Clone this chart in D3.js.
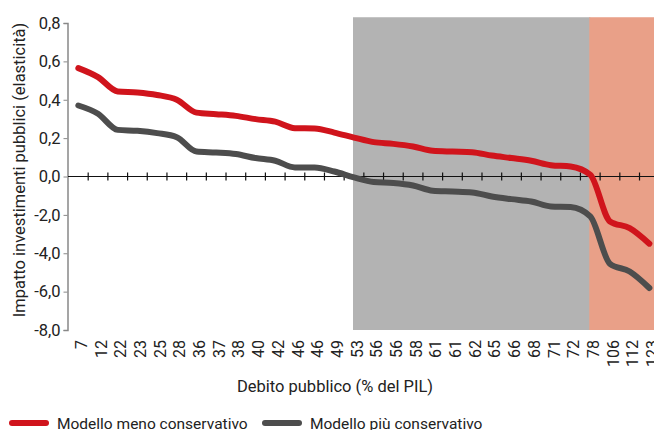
<!DOCTYPE html>
<html>
<head>
<meta charset="utf-8">
<script src="https://cdn.jsdelivr.net/npm/d3@7"></script>
<style>
  body { margin: 0; background: #fff; }
  svg text { font-family: Roboto, "Noto Sans", sans-serif; fill: #222; }
</style>
</head>
<body>
<svg id="chart" width="654" height="430"></svg>
<script>
// categories: public debt (% of GDP), several repeat so we key on index
const debtLabels = ["7","12","22","23","25","28","36","37","38","40","42","46","46","49","53",
  "56","56","58","61","61","62","65","66","68","71","72","78","106","112","123"];
const menoConservativo = [0.565,0.518,0.443,0.438,0.425,0.40,0.333,0.325,0.316,0.299,0.286,0.252,0.25,0.229,0.203,
  0.179,0.17,0.156,0.134,0.13,0.127,0.109,0.096,0.082,0.059,0.052,0.009,-0.234,-0.269,-0.35];
const piuConservativo = [0.37,0.327,0.243,0.238,0.226,0.205,0.13,0.125,0.117,0.096,0.082,0.047,0.047,0.026,-0.005,
  -0.029,-0.034,-0.047,-0.074,-0.078,-0.083,-0.104,-0.118,-0.13,-0.156,-0.159,-0.208,-0.455,-0.495,-0.581];
const yTicks = [0.8,0.6,0.4,0.2,0,-0.2,-0.4,-0.6,-0.8];
const yTickLabels = ["0,8","0,6","0,4","0,2","0,0","-2,0","-4,0","-6,0","-8,0"];
// shaded zones, given by index of the category where each starts
const zones = [{from:14, to:26, color:"#b3b3b3"},{from:26, to:29, color:"#e9a088"}];

const svg = d3.select("svg#chart");

const idx = debtLabels.map((d,i) => i);
const x = d3.scaleBand().domain(idx).range([68.5, 659.2]);
const y = d3.scaleLinear().domain([-0.8, 0.8]).range([330, 23]);
const cx = i => x(i) + x.bandwidth()/2;

//background zones
zones.forEach(function(z){
  let right = z.to === idx.length-1 ? x.range()[1] : cx(z.to);
  svg.append("rect").attr("x",cx(z.from)-1).attr("y",y(0.83))
    .attr("width",right-cx(z.from)+1).attr("height",y(-0.8)-y(0.83))
    .attr("fill",z.color);
});

//y axis
const yAxis = svg.append("g").attr("transform","translate(" + 67.5 + ",0)")
  .call(d3.axisLeft(y).tickValues(yTicks).tickSize(4).tickPadding(3)
    .tickFormat((d,i) => yTickLabels[i]));
yAxis.select(".domain").attr("stroke","#888").attr("stroke-width",1.5);
yAxis.selectAll(".tick line").attr("stroke","#888");
yAxis.selectAll("text").style("font-size","16.5px").attr("fill","#222");

//x axis on the zero line, ticks between categories
const xAxis = svg.append("g").attr("transform","translate(0," + y(0) + ")");
xAxis.append("line").attr("x1",68).attr("x2",654).attr("stroke","#111").attr("stroke-width",1.2);
xAxis.selectAll(".xt").data(idx.slice(1)).enter().append("line")
  .attr("x1",d => x(d)).attr("x2",d => x(d)).attr("y1",-4).attr("y2",4)
  .attr("stroke","#111").attr("stroke-width",1.2);

//rotated category labels under the plot
svg.append("g").selectAll("text").data(idx).enter().append("text")
  .attr("transform",d => "translate(" + (cx(d)+3) + "," + 340 + ") rotate(-90)")
  .attr("text-anchor","end").attr("dy","0.35em")
  .style("font-size","16px")
  .text(d => debtLabels[d]);

//lines
const line = d3.line().x((d,i) => cx(i)).y(d => y(d)).curve(d3.curveMonotoneX);
svg.append("path").datum(piuConservativo).attr("d",line)
  .attr("fill","none").attr("stroke","#4d4d4d").attr("stroke-width",6).attr("stroke-linecap","round");
svg.append("path").datum(menoConservativo).attr("d",line)
  .attr("fill","none").attr("stroke","#d0141c").attr("stroke-width",6).attr("stroke-linecap","round");

//axis titles
svg.append("text").attr("x",335).attr("y",392).attr("text-anchor","middle")
  .style("font-size","16.5px").text("Debito pubblico (% del PIL)");
svg.append("text").attr("transform","translate(25,170) rotate(-90)").attr("text-anchor","middle")
  .style("font-size","16.5px").text("Impatto investimenti pubblici (elasticità)");

//legend
const legend = [{name:"Modello meno conservativo", color:"#d0141c", x:12},
                {name:"Modello più conservativo", color:"#4d4d4d", x:265}];
legend.forEach(function(l){
  svg.append("line").attr("x1",l.x).attr("x2",l.x+34).attr("y1",423).attr("y2",423)
    .attr("stroke",l.color).attr("stroke-width",6).attr("stroke-linecap","round");
  svg.append("text").attr("x",l.x+45).attr("y",429).style("font-size","15.5px").text(l.name);
});
</script>
</body>
</html>
